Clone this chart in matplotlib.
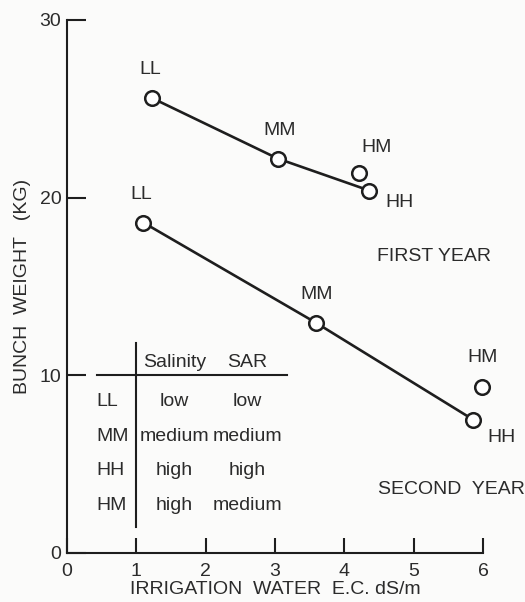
import matplotlib
matplotlib.use("Agg")
from matplotlib import pyplot as plt

plt.rcParams['font.family'] = ['Liberation Sans', 'DejaVu Sans']

# irrigation water EC (dS/m) and bunch weight (kg)
first_labels = ["LL", "MM", "HH"]
first_ec = [1.23, 3.04, 4.36]
first_weight = [25.6, 22.2, 20.4]
first_hm_ec = 4.21
first_hm_weight = 21.4

second_labels = ["LL", "MM", "HH"]
second_ec = [1.10, 3.59, 5.86]
second_weight = [18.6, 12.96, 7.5]
second_hm_ec = 5.99
second_hm_weight = 9.34

table_head = ["Salinity", "SAR"]
table_rows = ["LL", "MM", "HH", "HM"]
table_salinity = ["low", "medium", "high", "high"]
table_sar = ["low", "medium", "high", "medium"]

x_ticks = [0, 1, 2, 3, 4, 5, 6]
y_ticks = [0, 10, 20, 30]

ink = "#1e1e1e"
txt = "#2b2b2b"
fs = 14

fig = plt.figure(figsize=(5.25, 6.02), dpi=100, facecolor="#fbfbfa")
ax = fig.add_axes([0.1276, 0.0814, 0.7924, 0.8854])
ax.set_facecolor("none")
ax.set_xlim(0, 6)
ax.set_ylim(0, 30)

for s in ["top", "right"]:
    ax.spines[s].set_visible(False)
for s in ["left", "bottom"]:
    ax.spines[s].set_linewidth(1.5)
    ax.spines[s].set_color(ink)

ax.set_xticks(x_ticks)
ax.set_yticks(y_ticks)
ax.tick_params(axis="x", direction="in", length=11, width=1.5, color=ink,
               labelsize=fs, labelcolor=txt, pad=7)
ax.tick_params(axis="y", direction="in", length=14, width=1.5, color=ink,
               labelsize=fs, labelcolor=txt, pad=4)

ax.set_xlabel("IRRIGATION  WATER  E.C. dS/m", fontsize=fs, color=txt, labelpad=1)
ax.set_ylabel("BUNCH  WEIGHT   (KG)", fontsize=fs, color=txt, labelpad=6)

mk = dict(marker="o", markersize=10.5, markerfacecolor="white",
          markeredgecolor=ink, markeredgewidth=1.8, clip_on=False, zorder=3)

ax.plot(first_ec, first_weight, color=ink, linewidth=1.9, **mk)
ax.plot([first_hm_ec], [first_hm_weight], linestyle="none", **mk)
ax.plot(second_ec, second_weight, color=ink, linewidth=1.9, **mk)
ax.plot([second_hm_ec], [second_hm_weight], linestyle="none", **mk)

lab = dict(fontsize=fs, color=txt, ha="center", va="center")
# first year labels
ax.text(first_ec[0] - 0.03, first_weight[0] + 1.6, first_labels[0], **lab)
ax.text(first_ec[1] + 0.02, first_weight[1] + 1.6, first_labels[1], **lab)
ax.text(first_ec[2] + 0.44, first_weight[2] - 0.65, first_labels[2], **lab)
ax.text(first_hm_ec + 0.26, first_hm_weight + 1.4, "HM", **lab)
ax.text(5.3, 16.7, "FIRST YEAR", **lab)
# second year labels
ax.text(second_ec[0] - 0.03, second_weight[0] + 1.6, second_labels[0], **lab)
ax.text(second_ec[1] + 0.01, second_weight[1] + 1.6, second_labels[1], **lab)
ax.text(second_ec[2] + 0.40, second_weight[2] - 1.0, second_labels[2], **lab)
ax.text(second_hm_ec, second_hm_weight + 1.65, "HM", **lab)
ax.text(5.55, 3.55, "SECOND  YEAR", **lab)

# key table
ax.plot([0.43, 3.17], [10, 10], color=ink, linewidth=1.5)
ax.plot([1.0, 1.0], [1.45, 11.8], color=ink, linewidth=1.5)
col_x = [1.55, 2.6]
ax.text(col_x[0], 10.75, table_head[0], **lab)
ax.text(col_x[1], 10.75, table_head[1], **lab)
row_y = [8.5, 6.58, 4.67, 2.7]
for name, sal, sar, yy in zip(table_rows, table_salinity, table_sar, row_y):
    ax.text(0.43, yy, name, fontsize=fs, color=txt, ha="left", va="center")
    ax.text(col_x[0], yy, sal, **lab)
    ax.text(col_x[1], yy, sar, **lab)

fig.savefig("out.png", dpi=100, facecolor=fig.get_facecolor())
